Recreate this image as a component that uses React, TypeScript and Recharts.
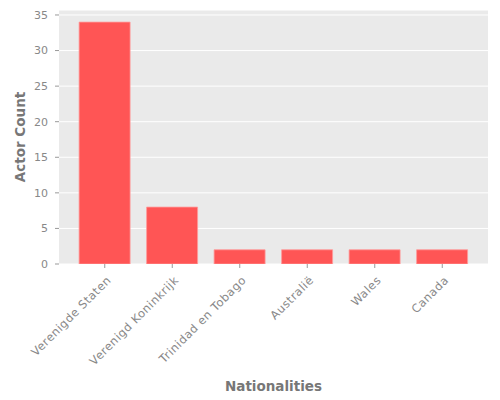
import React from 'react';
import { Bar, BarChart, CartesianGrid, XAxis, YAxis, Label } from 'recharts';

const nationalities = [
  'Verenigde Staten',
  'Verenigd Koninkrijk',
  'Trinidad en Tobago',
  'Australië',
  'Wales',
  'Canada',
];
const actorCounts = [34, 8, 2, 2, 2, 2];
const yTicks = [0, 5, 10, 15, 20, 25, 30, 35];

const data = nationalities.map((name, i) => ({ name, count: actorCounts[i] }));

const FONT = 'DejaVu Sans, sans-serif';

const SlantTick = (props: any) => {
  const { x, y, payload } = props;
  return (
    <text
      transform={`translate(${x + 7},${y + 11}) rotate(-45)`}
      textAnchor="end"
      fontSize={11.5}
      letterSpacing={0.5}
      fontFamily={FONT}
      fill="#888"
    >
      {payload.value}
    </text>
  );
};

const App = () => {
  return (
    <div style={{ position: 'absolute', left: 0, top: 0, width: 500, height: 400, background: '#fff' }}>
      <BarChart
        width={500}
        height={400}
        data={data}
        margin={{ top: 10, right: 12, bottom: 0, left: 0 }}
        barCategoryGap="12%"
      >
        <CartesianGrid vertical={false} stroke="#fff" strokeWidth={1} fill="#EAEAEA" />
        <XAxis
          dataKey="name"
          height={136}
          interval={0}
          padding={{ left: 12, right: 12 }}
          axisLine={false}
          tickLine={{ stroke: '#999' }}
          tickSize={4}
          tickMargin={2}
          tick={<SlantTick />}
        >
          <Label
            content={({ viewBox }: any) => (
              <text
                x={viewBox.x + viewBox.width / 2}
                y={viewBox.y + 127}
                textAnchor="middle"
                fontSize={13.5}
                fontWeight="bold"
                fontFamily={FONT}
                fill="#777"
              >
                Nationalities
              </text>
            )}
          />
        </XAxis>
        <YAxis
          width={59}
          domain={[0, 35.7]}
          ticks={yTicks}
          allowDataOverflow
          axisLine={false}
          tickLine={{ stroke: '#999' }}
          tickSize={4}
          tickMargin={7}
          tick={{ fontSize: 11, fontFamily: FONT, fill: '#888' }}
        >
          <Label
            content={({ viewBox }: any) => {
              const cy = viewBox.y + viewBox.height / 2;
              return (
                <text
                  x={25}
                  y={cy}
                  transform={`rotate(-90, 25, ${cy})`}
                  textAnchor="middle"
                  fontSize={13.5}
                  fontWeight="bold"
                  fontFamily={FONT}
                  fill="#777"
                >
                  Actor Count
                </text>
              );
            }}
          />
        </YAxis>
        <Bar dataKey="count" fill="#FF5555" stroke="#FF9A9A" strokeWidth={0.8} isAnimationActive={false} />
      </BarChart>
    </div>
  );
};

export default App;
